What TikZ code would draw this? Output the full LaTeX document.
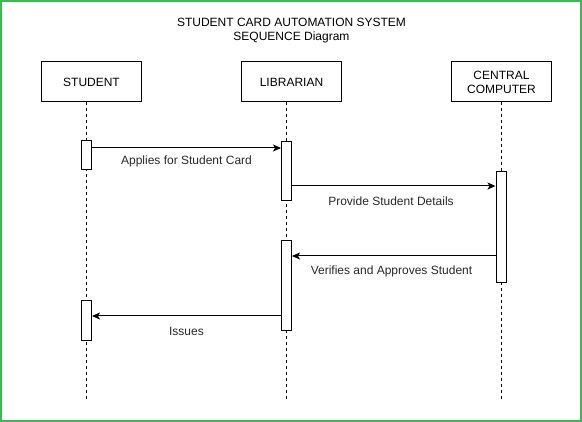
\documentclass[tikz,border=0pt]{standalone}
\usepackage{fontspec}
\setmainfont{Liberation Sans}
\usetikzlibrary{arrows.meta}
\definecolor{frame}{RGB}{60,185,85}
\definecolor{labelgray}{RGB}{40,40,40}
\tikzset{
  actor/.style={draw=black, line width=1pt, minimum width=100pt, minimum height=40pt, inner sep=0pt, align=center, font=\fontsize{12}{14}\selectfont},
  act/.style={draw=black, fill=white, line width=1pt, minimum width=10pt, inner sep=0pt},
  life/.style={draw=black, line width=1pt, dash pattern=on 3pt off 3pt},
  msg/.style={draw=black, line width=1pt, -{Stealth[length=8pt,width=7pt,inset=2pt]}},
  lbl/.style={text=labelgray, font=\fontsize{12}{14}\selectfont, inner sep=0pt},
}
\begin{document}
\begin{tikzpicture}[x=1pt,y=-1pt]
\useasboundingbox (0,0) rectangle (582,422);
\draw[frame, line width=2pt] (1,1) rectangle (581,421);

% title
\node[align=center, font=\fontsize{12}{14}\selectfont, inner sep=0pt] (title) at (291.5,31) {STUDENT CARD AUTOMATION SYSTEM\\SEQUENCE Diagram};

% participants
\node[actor] (stu) at (91.5,82) {STUDENT};
\node[actor] (lib) at (291.5,82) {LIBRARIAN};
\node[actor] (cpu) at (501.5,82) {CENTRAL\\COMPUTER};

% lifeline ends
\coordinate (stuEnd) at (86,399);
\coordinate (libEnd) at (286.5,402);
\coordinate (cpuEnd) at (501,399);
\draw[life] (stu.south -| stuEnd) -- (stuEnd);
\draw[life] (lib.south -| libEnd) -- (libEnd);
\draw[life] (cpu.south -| cpuEnd) -- (cpuEnd);

% activations
\node[act, minimum height=29pt] (s1) at (86.5,155.5) {};
\node[act, minimum height=59pt] (l1) at (286.5,171.5) {};
\node[act, minimum height=111pt] (c1) at (501,227.5) {};
\node[act, minimum height=90pt] (l2) at (286.5,286) {};
\node[act, minimum height=40pt] (s2) at (86.5,321) {};

% messages
\draw[msg] (s1.east |- 0,148) -- (l1.west |- 0,148);
\node[lbl] (m1) at (186.5,161.5) {Applies for Student Card};

\draw[msg] (l1.east |- 0,186) -- (c1.west |- 0,186);
\node[lbl] (m2) at (391,201.5) {Provide Student Details};

\draw[msg] (c1.west |- 0,256) -- (l2.east |- 0,256);
\node[lbl] (m3) at (391.5,271) {Verifies and Approves Student};

\draw[msg] (l2.west |- 0,316) -- (s2.east |- 0,316);
\node[lbl] (m4) at (186.5,331.5) {Issues};
\end{tikzpicture}
\end{document}
